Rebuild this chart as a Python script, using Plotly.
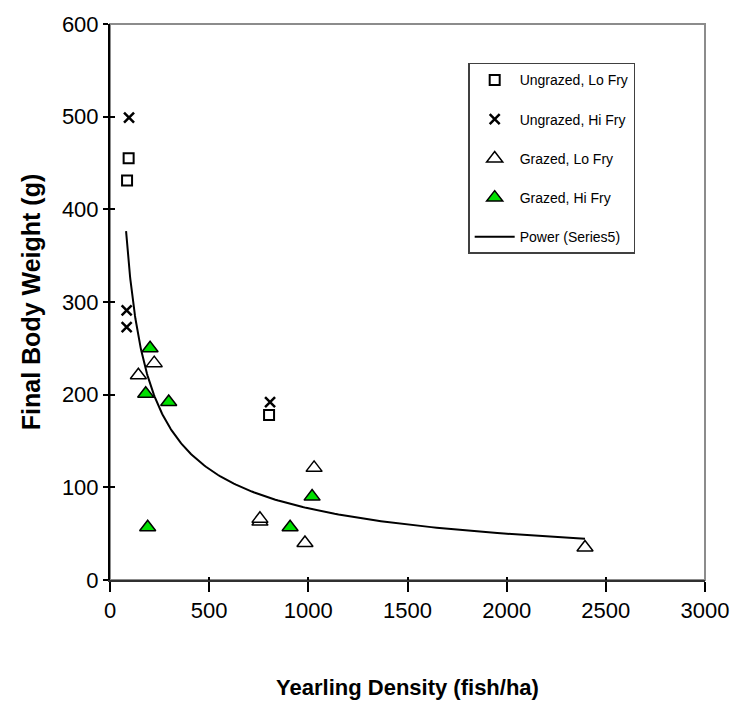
import numpy as np
import plotly.graph_objects as go

# ---- data ----
ung_lo_x = [94, 86, 802]
ung_lo_y = [455, 431, 178]

ung_hi_x = [96, 84, 84, 807]
ung_hi_y = [499, 291, 273, 192]

gr_lo_x = [143, 223, 1029, 756, 756, 983, 2395]
gr_lo_y = [221, 234, 121, 63, 66, 40, 35]

gr_hi_x = [202, 180, 296, 190, 1019, 908]
gr_hi_y = [250, 201, 192, 57, 90, 57]

# power trendline y = a * x^b (coefficients)
trend_a = 6000.0
trend_b = -0.63
trend_x_min = 81
trend_x_max = 2395

x_ticks = [0, 500, 1000, 1500, 2000, 2500, 3000]
y_ticks = [0, 100, 200, 300, 400, 500, 600]

FONT = "Liberation Sans, Arial, sans-serif"
GREEN = "#00e000"

tx = np.geomspace(trend_x_min, trend_x_max, 200)
ty = trend_a * tx ** trend_b

fig = go.Figure()
fig.add_trace(go.Scatter(
    x=ung_lo_x, y=ung_lo_y, mode="markers", name="Ungrazed, Lo Fry",
    marker=dict(symbol="square-open", size=10, color="black", line=dict(width=2)),
    legendgroup="a"))
fig.add_trace(go.Scatter(
    x=ung_hi_x, y=ung_hi_y, mode="markers", name="Ungrazed, Hi Fry",
    marker=dict(symbol="x-thin", size=10, color="black", line=dict(width=2.5, color="black")),
    legendgroup="b"))
fig.add_trace(go.Scatter(
    x=gr_lo_x, y=gr_lo_y, mode="markers", name="Grazed, Lo Fry",
    marker=dict(symbol="triangle-up", size=14, color="white", line=dict(width=1.5, color="black")),
    legendgroup="c"))
fig.add_trace(go.Scatter(
    x=gr_hi_x, y=gr_hi_y, mode="markers", name="Grazed, Hi Fry",
    marker=dict(symbol="triangle-up", size=14, color=GREEN, line=dict(width=1.5, color="black")),
    legendgroup="d"))
fig.add_trace(go.Scatter(
    x=tx, y=ty, mode="lines", name="Power (Series5)",
    line=dict(color="black", width=2), legendgroup="e"))
# helper (empty) trace for the inner half of the crossing ticks
fig.add_trace(go.Scatter(x=[], y=[], xaxis="x2", yaxis="y2", showlegend=False,
                         hoverinfo="skip"))

axis_common = dict(showgrid=False, zeroline=False, automargin=False)

# page body has an 8px default margin, so the figure is 8px smaller on each axis
fig.update_layout(
    width=736, height=700,
    margin=dict(l=102, r=39, t=16, b=128),
    paper_bgcolor="white", plot_bgcolor="white",
    font=dict(family=FONT, color="black"),
    showlegend=True,
    legend=dict(
        x=0.602, y=0.930, xanchor="left", yanchor="top",
        bgcolor="white", bordercolor="#404040", borderwidth=1.5,
        font=dict(family=FONT, size=14, color="black"),
        tracegroupgap=18, itemwidth=40,
    ),
    xaxis=dict(
        range=[0, 3000], tickvals=x_ticks, ticktext=[str(v) for v in x_ticks],
        ticks="outside", ticklen=10, tickwidth=1.5, tickcolor="black",
        showline=True, linecolor="#303030", linewidth=2,
        tickfont=dict(family=FONT, size=22, color="black"),
        title=dict(text="<b>Yearling Density (fish/ha)</b>",
                   font=dict(family=FONT, size=22, color="black"), standoff=57),
        **axis_common),
    yaxis=dict(
        range=[0, 600], tickvals=y_ticks, ticktext=[str(v) for v in y_ticks],
        ticks="outside", ticklen=5, tickwidth=1.5, tickcolor="black",
        showline=True, linecolor="black", linewidth=2,
        tickfont=dict(family=FONT, size=22, color="black"),
        title=dict(text="<b>Final Body Weight (g)</b>",
                   font=dict(family=FONT, size=25, color="black"), standoff=14),
        **axis_common),
    xaxis2=dict(range=[0, 3000], overlaying="x", anchor="y2", tickvals=x_ticks,
                showticklabels=False, ticks="inside", ticklen=3, tickwidth=1.5,
                tickcolor="black", showline=False, **axis_common),
    yaxis2=dict(range=[0, 600], overlaying="y", anchor="x2", tickvals=y_ticks,
                showticklabels=False, ticks="inside", ticklen=5, tickwidth=1.5,
                tickcolor="black", showline=False, **axis_common),
    shapes=[dict(type="rect", xref="paper", yref="paper", x0=0, y0=0, x1=1, y1=1,
                 line=dict(color="#8c8c8c", width=2), layer="below")],
)

fig.write_html("out.html")
